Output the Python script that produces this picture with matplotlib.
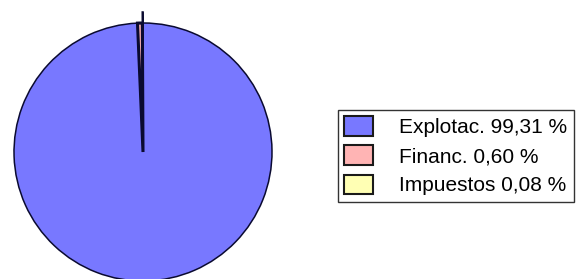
import matplotlib
matplotlib.use("Agg")
import matplotlib.pyplot as plt

# partidas y porcentajes
categorias = ["Explotac.", "Financ.", "Impuestos"]
porcentajes = [99.31, 0.60, 0.08]
colores = ["#7878ff", "#ffb4b4", "#ffffb4"]
separacion = [0, 0, 0.085]

plt.rcParams['font.family'] = ['Liberation Sans', 'DejaVu Sans']

fig = plt.figure(figsize=(5.76, 2.79), dpi=100)
fig.patch.set_facecolor('white')

# ejes de la tarta, escala 129 px por unidad de radio
ax = fig.add_axes([0, 0, 290 / 576, 1])
wedges, _ = ax.pie(porcentajes, colors=colores, explode=separacion,
                   startangle=90, counterclock=False,
                   wedgeprops=dict(edgecolor='#0a0a30', linewidth=1.1))
# las porciones finas se ven casi negras en el original
wedges[1].set_linewidth(2.2)
wedges[2].set_linewidth(1.2)
ax.set_xlim(-143 / 129, 147 / 129)
ax.set_ylim(-127 / 129, 152 / 129)
ax.set_aspect('auto')
ax.axis('off')

etiquetas = ["{} {} %".format(c, ("%.2f" % p).replace('.', ','))
             for c, p in zip(categorias, porcentajes)]

leg = fig.legend(wedges, etiquetas, loc='upper left',
                 bbox_to_anchor=(338 / 576, 1 - 110 / 279),
                 fontsize=15, frameon=True, fancybox=False, shadow=False,
                 borderaxespad=0, borderpad=0.3, labelspacing=0.4,
                 handlelength=1.4, handleheight=1.06, handletextpad=1.25)
leg.get_frame().set_edgecolor('black')
leg.get_frame().set_linewidth(1)
for h in leg.legend_handles:
    h.set_edgecolor('#1a1a1a')
    h.set_linewidth(1.5)

fig.savefig("out.png", dpi=100, facecolor='white')
